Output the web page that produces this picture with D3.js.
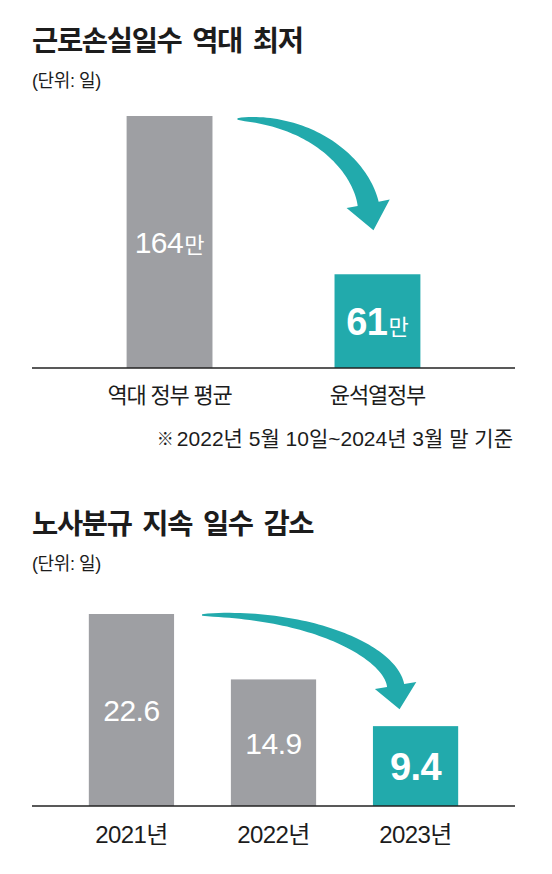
<!DOCTYPE html>
<html lang="ko">
<head>
<meta charset="utf-8">
<script src="https://cdn.jsdelivr.net/npm/d3@7"></script>
<style>
  body { margin: 0; background: #fff; }
  svg text { font-family: "Liberation Sans", "Noto Sans CJK KR", sans-serif; }
  .kr { font-family: "Noto Sans CJK KR", sans-serif; }
</style>
</head>
<body>
<svg id="chart" width="552" height="874"></svg>
<script>
// 근로손실일수 (단위: 일, 만 단위 표기)
var lossLabels = ["역대 정부 평균", "윤석열정부"];
var lossValues = [164, 61];
var lossUnit = "만";

// 노사분규 지속 일수 (단위: 일)
var strikeLabels = ["2021년", "2022년", "2023년"];
var strikeValues = [22.6, 14.9, 9.4];

var titles = ["근로손실일수 역대 최저", "노사분규 지속 일수 감소"];
var unitNote = "(단위: 일)";
var footMark = "※";
var footnote = "2022년 5월 10일~2024년 3월 말 기준";

var GRAY = "#9e9fa3", TEAL = "#22aaac", INK = "#1c1c1c";
var svg = d3.select("#chart");

// tapered curved arrow from (sx,sy) to tip (tx,ty)
function drawArrow(g, sx, sy, tx, ty, o) {
    var dl = Math.hypot(o.dirX, 1),
        dx = o.dirX / dl, dy = 1 / dl;
    var ex = tx - dx * o.headLen, ey = ty - dy * o.headLen;
    var c1 = [sx + 0.58 * (ex - sx), sy + (o.lift || 0)],
        c2 = [ex - dx * 0.47 * (ey - sy), ey - dy * 0.47 * (ey - sy)];
    function pt(t) {
        var u = 1 - t;
        return [u*u*u*sx + 3*u*u*t*c1[0] + 3*u*t*t*c2[0] + t*t*t*ex,
                u*u*u*sy + 3*u*u*t*c1[1] + 3*u*t*t*c2[1] + t*t*t*ey];
    }
    function tan(t) {
        var u = 1 - t;
        var x = 3*u*u*(c1[0]-sx) + 6*u*t*(c2[0]-c1[0]) + 3*t*t*(ex-c2[0]),
            y = 3*u*u*(c1[1]-sy) + 6*u*t*(c2[1]-c1[1]) + 3*t*t*(ey-c2[1]);
        var l = Math.hypot(x, y);
        return [x / l, y / l];
    }
    var outer = [], inner = [], N = 60;
    for (var i = 0; i <= N; i++) {
        var t = i / N, p = pt(t), d = tan(t),
            w = 0.7 + o.half * Math.pow(t, 0.6);
        outer.push([p[0] + d[1] * w, p[1] - d[0] * w]);
        inner.push([p[0] - d[1] * w, p[1] + d[0] * w]);
    }
    var nx = dy, ny = -dx;
    var wingR = [ex + nx * o.headHalf, ey + ny * o.headHalf],
        wingL = [ex - nx * o.headHalf, ey - ny * o.headHalf];
    var pts = outer.concat([wingR, [tx, ty], wingL], inner.reverse());
    g.append("path")
        .attr("d", d3.line()(pts) + "Z")
        .attr("fill", TEAL);
}

function drawPanel(cfg) {
    var g = svg.append("g");

    g.append("text")
        .attr("class", "kr")
        .attr("x", 32).attr("y", cfg.top + 23)
        .attr("font-size", 28.5).attr("font-weight", "bold")
        .attr("letter-spacing", -1.3)
        .attr("word-spacing", 4)
        .attr("fill", INK)
        .text(cfg.title);

    g.append("text")
        .attr("x", 32).attr("y", cfg.top + 59)
        .attr("font-size", 18)
        .attr("letter-spacing", -0.4)
        .attr("fill", INK)
        .text(unitNote);

    var x = d3.scaleBand()
        .domain(cfg.labels)
        .range([32, 515])
        .paddingInner(cfg.padIn)
        .paddingOuter(cfg.padOut);

    var y = d3.scaleLinear()
        .domain([0, d3.max(cfg.values)])
        .range([cfg.base, cfg.barTop]);

    var last = cfg.values.length - 1;

    g.selectAll("rect.bar")
        .data(cfg.values)
        .enter().append("rect")
        .attr("class", "bar")
        .attr("x", function (d, i) { return x(cfg.labels[i]); })
        .attr("y", function (d) { return y(d); })
        .attr("width", x.bandwidth())
        .attr("height", function (d) { return cfg.base - y(d); })
        .attr("fill", function (d, i) { return i === last ? TEAL : GRAY; });

    // value labels, centred in each bar
    var vl = g.selectAll("text.val")
        .data(cfg.values)
        .enter().append("text")
        .attr("class", "val")
        .attr("text-anchor", "middle")
        .attr("fill", "#fff")
        .attr("x", function (d, i) { return x(cfg.labels[i]) + x.bandwidth() / 2; })
        .attr("y", function (d, i) {
            var fs = i === last ? 38 : 30;
            return (y(d) + cfg.base) / 2 + fs * 0.36;
        });
    vl.append("tspan")
        .attr("font-size", function (d, i) { return i === last ? 38 : 30; })
        .attr("font-weight", function (d, i) { return i === last ? "bold" : "normal"; })
        .attr("letter-spacing", -0.5)
        .text(function (d) { return cfg.fmt(d); });
    if (cfg.unit) {
        vl.append("tspan")
            .attr("class", "kr")
            .attr("font-size", 22)
            .attr("dx", 1)
            .text(cfg.unit);
    }

    // baseline
    g.append("line")
        .attr("x1", 32).attr("x2", 515)
        .attr("y1", cfg.base).attr("y2", cfg.base)
        .attr("stroke", "#222").attr("stroke-width", 1.4);

    g.selectAll("text.cat")
        .data(cfg.labels)
        .enter().append("text")
        .attr("class", "cat")
        .attr("text-anchor", "middle")
        .attr("x", function (d) { return x(d) + x.bandwidth() / 2; })
        .attr("y", cfg.base + cfg.catDy)
        .attr("font-size", cfg.catSize)
        .attr("letter-spacing", cfg.catSpacing)
        .attr("fill", INK)
        .text(function (d) { return d; });

    // arrow from the first bar to the highlighted last bar
    var a = cfg.arrow;
    drawArrow(g,
        x(cfg.labels[0]) + x.bandwidth() + a.startGap,
        y(cfg.values[0]) + a.startDrop,
        x(cfg.labels[last]) + x.bandwidth() / 2 - a.tipShift,
        y(cfg.values[last]) - a.tipGap,
        a);

    return g;
}

drawPanel({
    title: titles[0], top: 28,
    labels: lossLabels, values: lossValues, unit: lossUnit,
    fmt: function (d) { return d; },
    padIn: 0.587, padOut: 0.455,
    base: 368, barTop: 116,
    catDy: 35, catSize: 22, catSpacing: -1.2,
    arrow: { startGap: 25, startDrop: 3, tipShift: 4, tipGap: 44,
             dirX: 0.2, headLen: 27, headHalf: 22, half: 10 }
});

drawPanel({
    title: titles[1], top: 511,
    labels: strikeLabels, values: strikeValues, unit: null,
    fmt: d3.format(".1f"),
    padIn: 0.4, padOut: 0.4,
    base: 806, barTop: 614,
    catDy: 37, catSize: 24, catSpacing: -0.6,
    arrow: { startGap: 28, startDrop: 1, tipShift: 16, tipGap: 17, lift: -2,
             dirX: 0.167, headLen: 24, headHalf: 21, half: 8 }
});

var fn = svg.append("text")
    .attr("x", 513).attr("y", 446)
    .attr("text-anchor", "end")
    .attr("fill", INK);
fn.append("tspan")
    .attr("font-size", 17)
    .attr("dy", -1)
    .text(footMark);
fn.append("tspan")
    .attr("font-size", 21)
    .attr("dx", 3).attr("dy", 1)
    .text(footnote);
</script>
</body>
</html>
